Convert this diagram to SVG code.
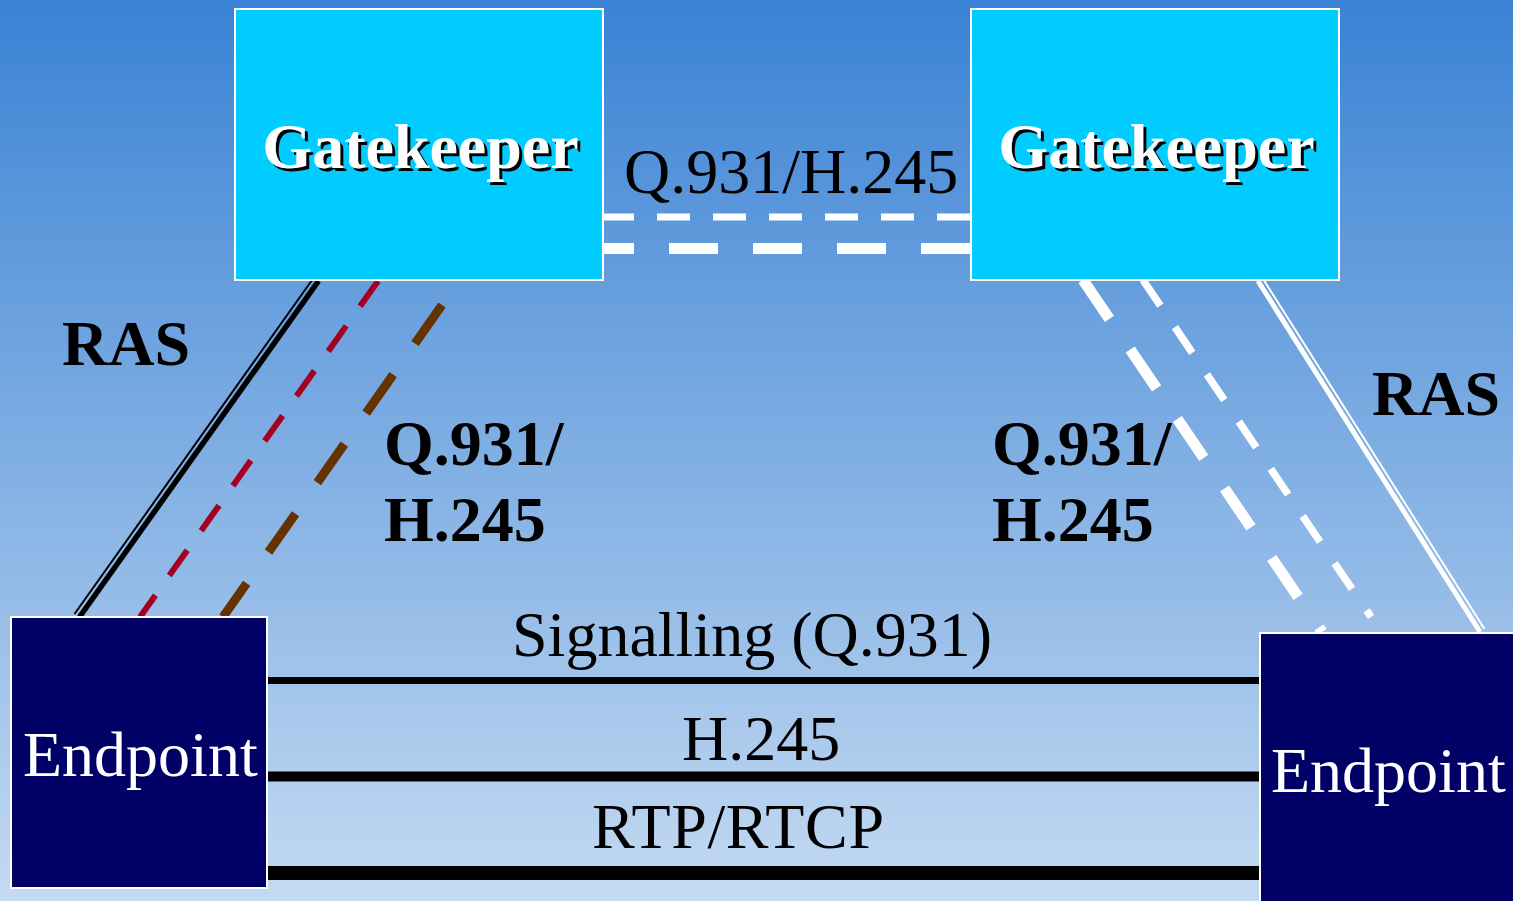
<svg xmlns="http://www.w3.org/2000/svg" width="1513" height="901" viewBox="0 0 1513 901">
<defs>
<linearGradient id="bg" x1="0" y1="0" x2="0" y2="1">
<stop offset="0" stop-color="#3a82d4"/>
<stop offset="1" stop-color="#c4daf2"/>
</linearGradient>
<style>
.gk{fill:#00ccff;stroke:#ffffff;stroke-width:2}
.ep{fill:#000066;stroke:#ffffff;stroke-width:2}
.gkt{font-family:"Liberation Serif","Times New Roman",serif;font-weight:bold;font-size:64px;text-anchor:middle}
.ept{font-family:"Liberation Serif","Times New Roman",serif;font-size:64px;fill:#ffffff}
.lbl{font-family:"Liberation Serif","Times New Roman",serif;font-size:64px;fill:#000000}
.blbl{font-family:"Liberation Serif","Times New Roman",serif;font-size:64px;font-weight:bold;fill:#000000}
.c{fill:none}
</style>
</defs>
<rect x="0" y="0" width="1513" height="901" fill="url(#bg)"/>

<g id="connectors">
<!-- gatekeeper to gatekeeper -->
<line class="c" x1="603" y1="217" x2="971" y2="217" stroke="#ffffff" stroke-width="7" stroke-dasharray="33 23" stroke-dashoffset="2"/>
<line class="c" x1="603" y1="248.5" x2="971" y2="248.5" stroke="#ffffff" stroke-width="11" stroke-dasharray="49 35" stroke-dashoffset="18"/>
<!-- left RAS -->
<line class="c" x1="318.5" y1="281" x2="79.5" y2="617" stroke="#000000" stroke-width="5.5"/>
<line class="c" x1="313.5" y1="278" x2="74.5" y2="614" stroke="#000000" stroke-width="2"/>
<!-- left Q.931 / H.245 -->
<line class="c" x1="378" y1="281" x2="140" y2="617" stroke="#a50021" stroke-width="6" stroke-dasharray="31 24"/>
<line class="c" x1="442" y1="305" x2="223" y2="617" stroke="#663300" stroke-width="9" stroke-dasharray="47 38"/>
<!-- right Q.931 / H.245 -->
<line class="c" x1="1083" y1="280" x2="1322" y2="632" stroke="#ffffff" stroke-width="11" stroke-dasharray="47 37"/>
<line class="c" x1="1143" y1="280" x2="1371" y2="617" stroke="#ffffff" stroke-width="7.5" stroke-dasharray="31 26"/>
<!-- right RAS -->
<line class="c" x1="1258" y1="281" x2="1480" y2="632" stroke="#ffffff" stroke-width="5"/>
<line class="c" x1="1262.5" y1="278" x2="1484.5" y2="629" stroke="#ffffff" stroke-width="2"/>
<!-- endpoint to endpoint -->
<line class="c" x1="267" y1="680.5" x2="1260" y2="680.5" stroke="#000000" stroke-width="7"/>
<line class="c" x1="267" y1="776.5" x2="1260" y2="776.5" stroke="#000000" stroke-width="10"/>
<line class="c" x1="267" y1="873" x2="1260" y2="873" stroke="#000000" stroke-width="14"/>
</g>

<g id="labels">
<text class="lbl" x="624" y="193">Q.931/H.245</text>
<text class="blbl" x="62" y="365">RAS</text>
<text class="blbl" x="1372" y="415">RAS</text>
<text class="blbl" x="384" y="465">Q.931/</text>
<text class="blbl" x="384" y="541">H.245</text>
<text class="blbl" x="992" y="465">Q.931/</text>
<text class="blbl" x="992" y="541">H.245</text>
<text class="lbl" x="512" y="656">Signalling (Q.931)</text>
<text class="lbl" x="682" y="760">H.245</text>
<text class="lbl" x="592" y="848" textLength="292">RTP/RTCP</text>
</g>

<g id="gatekeeper-left">
<rect class="gk" x="235" y="9" width="368" height="271"/>
<text class="gkt" x="423.5" y="171" fill="#000000">Gatekeeper</text>
<text class="gkt" x="420.5" y="168" fill="#ffffff">Gatekeeper</text>
</g>

<g id="gatekeeper-right">
<rect class="gk" x="971" y="9" width="368" height="271"/>
<text class="gkt" x="1159.5" y="171" fill="#000000">Gatekeeper</text>
<text class="gkt" x="1156.5" y="168" fill="#ffffff">Gatekeeper</text>
</g>

<g id="endpoint-left">
<rect class="ep" x="11" y="617" width="256" height="271"/>
<text class="ept" x="23" y="776">Endpoint</text>
</g>

<g id="endpoint-right">
<rect class="ep" x="1260" y="633" width="260" height="280"/>
<text class="ept" x="1271" y="792">Endpoint</text>
</g>
</svg>
